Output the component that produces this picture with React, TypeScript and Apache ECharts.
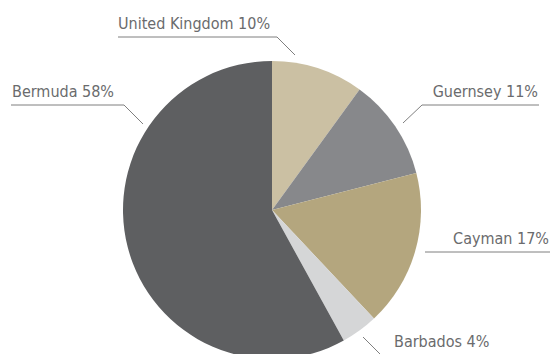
import React, { useEffect, useRef } from "react";
import * as echarts from "echarts";

const categories = ["United Kingdom", "Guernsey", "Cayman", "Barbados", "Bermuda"];
const values = [10, 11, 17, 4, 58];
const colors = ["#CBC0A3", "#87888B", "#B4A67E", "#D5D6D7", "#5E5F61"];

// label layout: text anchor + leader polyline (layout only)
const labelLayouts = [
  { x: 118, y: 32, align: "left", pts: [[295, 55], [277, 37], [118, 37]] },
  { x: 538, y: 100, align: "right", pts: [[403, 123], [422, 105], [539, 105]] },
  { x: 549, y: 247, align: "right", pts: [[425, 252], [425, 252], [550, 252]] },
  { x: 394, y: 350, align: "left", pts: [[363, 337], [381, 355], [490, 355]] },
  { x: 12, y: 100, align: "left", pts: [[143, 124], [124, 105], [11, 105]] },
];

const FONT = "'Liberation Sans Narrow', 'DejaVu Sans Condensed', 'Noto Sans', sans-serif";

export default function App() {
  const ref = useRef<HTMLDivElement>(null);
  useEffect(() => {
    if (!ref.current) return;
    const chart = echarts.init(ref.current, null, { renderer: "svg" });
    chart.setOption({
      animation: false,
      backgroundColor: "#ffffff",
      series: [
        {
          type: "pie",
          center: [272, 210],
          radius: 149,
          startAngle: 90,
          clockwise: true,
          data: categories.map((name, i) => ({
            name,
            value: values[i],
            itemStyle: { color: colors[i] },
          })),
          itemStyle: { borderWidth: 0 },
          label: {
            show: true,
            formatter: "{b} {c}%",
            color: "#6A6B6D",
            fontFamily: FONT,
            fontSize: 16,
            lineHeight: 18,
            overflow: "none",
          },
          labelLine: {
            show: true,
            smooth: false,
            lineStyle: { color: "#7F7F7F", width: 1 },
          },
          labelLayout: (params: any) => {
            const l = labelLayouts[params.dataIndex];
            return {
              x: l.x,
              y: l.y,
              align: l.align,
              verticalAlign: "bottom",
              labelLinePoints: l.pts,
            };
          },
          emphasis: { disabled: true },
        },
      ],
    });
    return () => chart.dispose();
  }, []);
  return (
    <div
      ref={ref}
      style={{ position: "absolute", left: 0, top: 0, width: 552, height: 354 }}
    />
  );
}
